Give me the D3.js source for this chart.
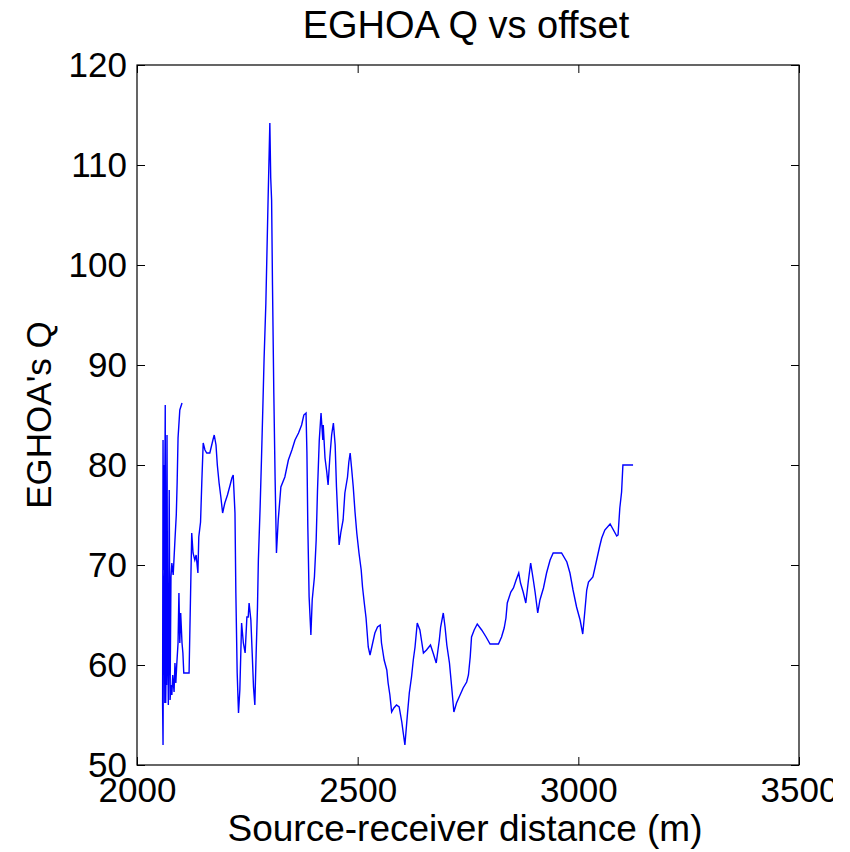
<!DOCTYPE html>
<html>
<head>
<meta charset="utf-8">
<script src="https://cdn.jsdelivr.net/npm/d3@7/dist/d3.min.js"></script>
<style>
  html, body { margin: 0; padding: 0; background: #fff; }
  text { font-family: "Liberation Sans", Arial, Helvetica, sans-serif; fill: #000; }
</style>
</head>
<body>
<svg id="chart" width="850" height="852"></svg>
<script>
// ---- data (path order) ----
const offsets = [
  2102,2097,2093,2091,2089,2086,2082,2079,2077,2075,2073,2071,2069,2067,2065,2063,2061,2060,2059,2058,
  2059,2060,2062,2064,2065,2066,2068,2069,2071,2073,2075,2077,2079,2081,2084,2086,2088,2090,2093,2095,2097,2099,2102,2104,2106,2118,
  2124,2127,2131,2134,2138,2140,2144,2147,2150,2154,2158,2165,2172,2175,2179,2182,2186,2190,2194,2199,2205,2211,2215,2218,
  2222,2224,2227,2230,2233,2237,2241,2245,2249,2252,2254,2258,2261,2264,2267,2270,2273,2275,2279,2282,2285,2288,2292,2297,
  2301,2303,2305,2307,2310,2313,2316,2320,2326,2335,2343,2351,2358,2366,2373,2378,2383,2385,2387,2390,2394,2397,2402,2406,
  2409,2413,2417,2421,2422,2426,2430,2433,2437,2441,2445,2449,2452,2456,2458,2462,2467,2471,2477,2480,2483,2486,2490,2494,
  2498,2503,2508,2511,2515,2519,2524,2528,2534,2539,2545,2551,2554,2560,2566,2569,2573,2577,2582,2588,2594,2600,2603,2607,
  2613,2617,2622,2626,2630,2635,2641,2649,2656,2665,2671,2678,2685,2688,2694,2698,2702,2708,2713,2718,2724,2732,2739,2747,
  2751,2755,2758,2764,2771,2781,2791,2800,2819,2826,2832,2836,2839,2847,2853,2859,2865,2869,2875,2881,2887,2892,2898,2902,
  2908,2913,2921,2928,2936,2943,2962,2974,2981,2988,2996,3004,3010,3015,3019,3023,3033,3038,3043,3048,3053,3060,3072,3087,
  3090,3094,3098,3101,3124
];
const qValues = [
  86.2,85.5,82.7,78.3,75,72.5,69,70.2,68.8,57,65,60,65,58,75,56.2,80,69.5,82.5,56,
  52,65.2,69.5,86,56.2,60,83,67,56,77.5,56.5,58,57,59,57.3,60.2,58.2,60,62.2,67.2,62.2,65.2,62.2,61.2,59.2,59.2,
  73.2,71.2,70.5,71,69.2,72.8,74.3,78.5,82.2,81.5,81.2,81.2,82.5,83,82,80,78.2,76.8,75.2,76.2,77,78,78.7,79,
  75.2,67.2,59.2,55.2,57.5,64.2,62.2,61.2,64.8,64.8,66.2,64.5,61.2,57.8,56,61.2,65.8,70.5,75.8,80.5,85.5,90.7,96.2,106.5,
  114.2,108.7,106.5,98,87.2,78.5,71.2,74.5,77.8,78.8,80.5,81.5,82.5,83.2,84,85,85.2,81.3,74,66.8,63,66.5,68.8,72.5,
  77.5,82.5,85.2,82.5,84,80.7,79.3,78,80.8,83,84.2,82,77.8,73.8,72,73.3,74.5,77.2,78.8,80.3,81.2,79.8,77.8,75.3,
  73.2,71.2,69.5,67.8,66.2,64.7,61.8,61,62.2,63.2,63.8,64,62.2,60.5,59.5,58.2,57,55.3,55.7,56,55.8,54.3,53.3,52,
  55.2,57.2,58.8,60.5,61.8,64.2,63.5,61.2,61.5,62,61.2,60.2,62.5,63.8,65.2,63.8,62,60.2,57.8,55.3,56.2,57,57.7,58.3,
  59,60.8,62.8,63.5,64.1,63.5,62.8,62.1,62.1,62.8,63.7,64.7,66.2,67.3,67.7,68.5,69.2,68.2,67.3,66.2,68.5,70.2,68.5,67.3,
  65.2,66.5,67.7,69.2,70.5,71.2,71.2,70.3,69.2,67.5,65.8,64.5,63.1,65.5,67.5,68.3,68.8,69.8,70.8,71.8,72.7,73.5,74.1,72.9,
  73,75.7,77.3,80,80
];
const xTicks = [2000, 2500, 3000, 3500];
const yTicks = [50, 60, 70, 80, 90, 100, 110, 120];
const titleText = "EGHOA Q vs offset";
const xLabel = "Source-receiver distance (m)";
const yLabel = "EGHOA's Q";

// ---- layout ----
const L = 137, R = 799, T = 65, B = 765;
const svg = d3.select("#chart");

const x = d3.scaleLinear().domain([2000, 3500]).range([L, R]);
const y = d3.scaleLinear().domain([50, 120]).range([B, T]);

const tickFs = 35;

// line
const pts = offsets.map((o, i) => [o, qValues[i]]);
svg.append("path")
  .datum(pts)
  .attr("fill", "none")
  .attr("stroke", "#0000ff")
  .attr("stroke-width", 1.4)
  .attr("stroke-linejoin", "miter")
  .attr("d", d3.line().x(d => x(d[0])).y(d => y(d[1])));

// axes: ticks inward on all four sides, labels on bottom/left
const tickLen = 8;
const gB = svg.append("g").attr("transform", `translate(0,${B})`)
  .call(d3.axisBottom(x).tickValues(xTicks).tickSizeInner(-tickLen).tickSizeOuter(0).tickPadding(12).tickFormat(d3.format("d")));
const gT = svg.append("g").attr("transform", `translate(0,${T})`)
  .call(d3.axisTop(x).tickValues(xTicks).tickSizeInner(-tickLen).tickSizeOuter(0).tickFormat(""));
const gL = svg.append("g").attr("transform", `translate(${L},0)`)
  .call(d3.axisLeft(y).tickValues(yTicks).tickSizeInner(-tickLen).tickSizeOuter(0).tickPadding(10).tickFormat(d3.format("d")));
const gR = svg.append("g").attr("transform", `translate(${R},0)`)
  .call(d3.axisRight(y).tickValues(yTicks).tickSizeInner(-tickLen).tickSizeOuter(0).tickFormat(""));

[gB, gT, gL, gR].forEach(g => {
  g.select(".domain").remove();
  g.selectAll(".tick line").attr("stroke", "#000").attr("stroke-width", 1);
  g.selectAll("text").attr("font-size", tickFs).attr("font-family", "Liberation Sans, Arial, sans-serif").attr("fill", "#000");
});

// box
svg.append("rect")
  .attr("x", L).attr("y", T).attr("width", R - L).attr("height", B - T)
  .attr("fill", "none").attr("stroke", "#000").attr("stroke-width", 1.2);

// reference image is cropped at its right edge (cuts the "3500" label)
svg.append("rect")
  .attr("x", 833).attr("y", 770).attr("width", 17).attr("height", 40)
  .attr("fill", "#fff");

// title
svg.append("text")
  .attr("x", 466).attr("y", 38)
  .attr("text-anchor", "middle").attr("font-size", 38)
  .text(titleText);

// x label
svg.append("text")
  .attr("x", 465).attr("y", 841)
  .attr("text-anchor", "middle").attr("font-size", 37)
  .text(xLabel);

// y label
svg.append("text")
  .attr("transform", `translate(51,${(T + B) / 2}) rotate(-90)`)
  .attr("text-anchor", "middle").attr("font-size", 35)
  .text(yLabel);
</script>
</body>
</html>
